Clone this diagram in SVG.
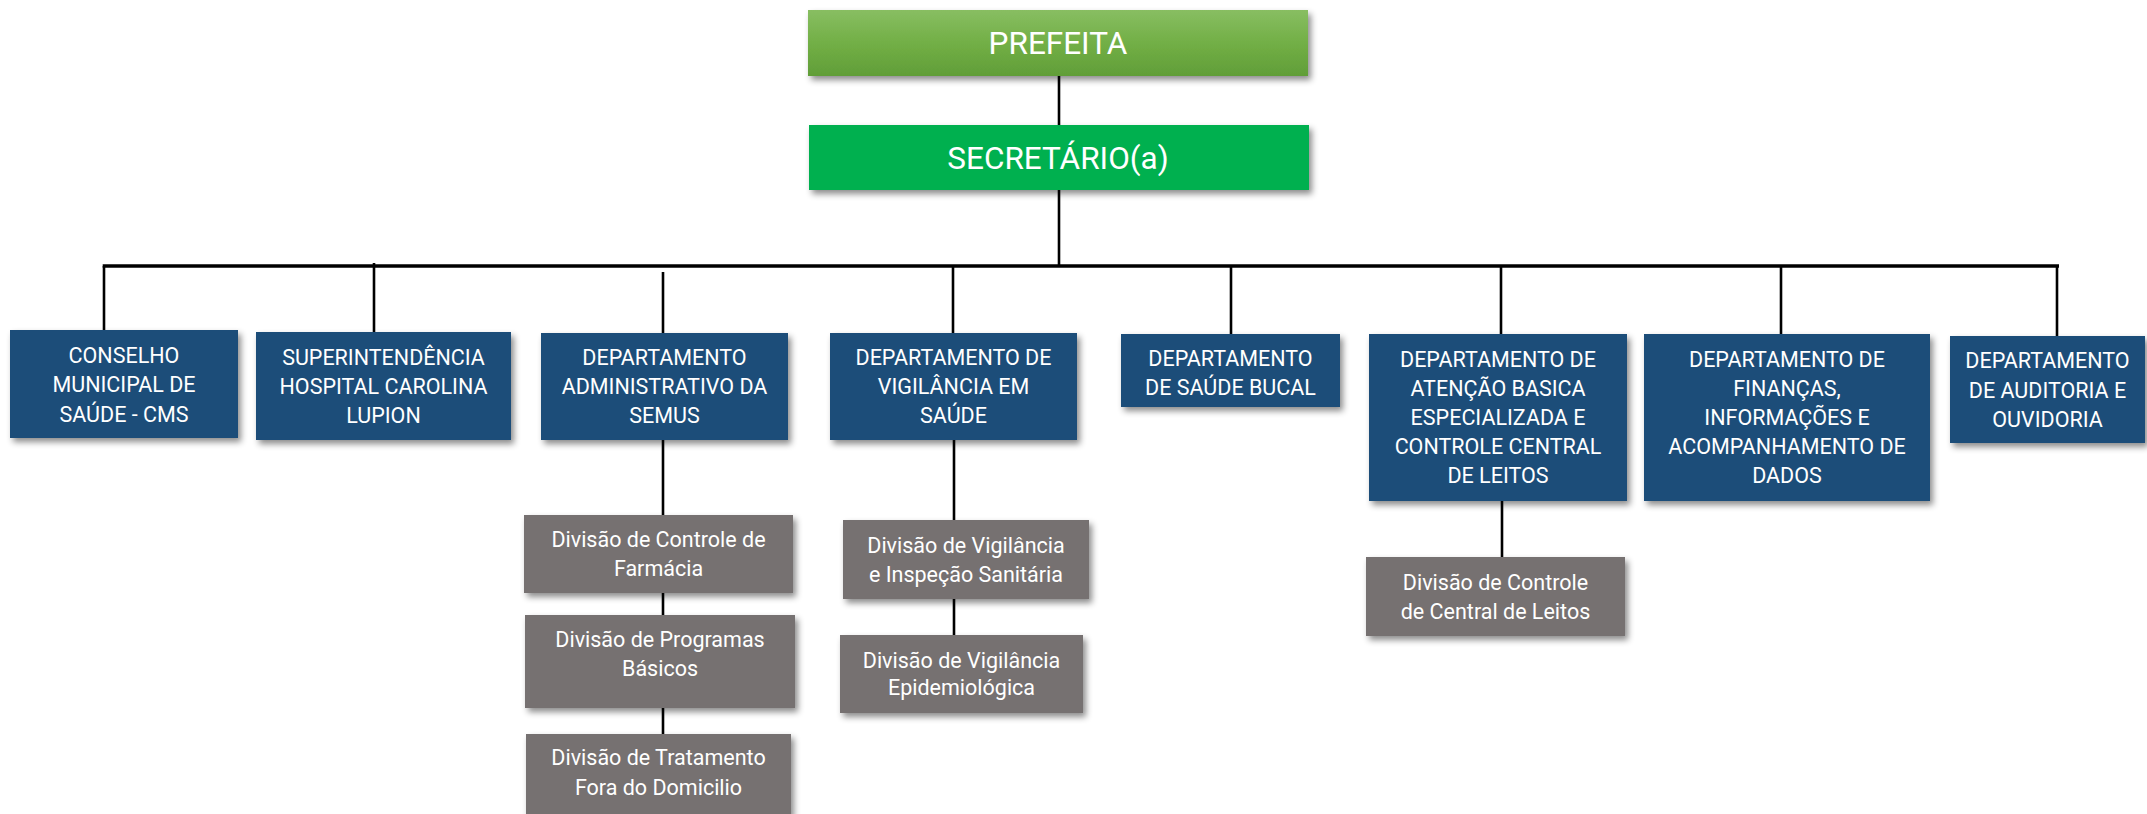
<svg xmlns="http://www.w3.org/2000/svg" width="2147" height="814" viewBox="0 0 2147 814">
<defs>
  <linearGradient id="gPref" x1="0" y1="0" x2="0" y2="1">
    <stop offset="0" stop-color="#88be62"/>
    <stop offset="0.5" stop-color="#72af46"/>
    <stop offset="1" stop-color="#619e38"/>
  </linearGradient>
  <filter id="sh" x="-10%" y="-10%" width="125%" height="140%">
    <feDropShadow dx="3" dy="4" stdDeviation="3" flood-color="#000" flood-opacity="0.45"/>
  </filter>
</defs>
<style>
  .blue { fill: #1f4e79; filter: url(#sh); }
  .gray { fill: #767171; filter: url(#sh); }
  .t { font-family: Roboto, "Liberation Sans", sans-serif; fill: #ffffff; text-anchor: middle; font-size: 21.5px; }
  .big { font-size: 31.5px; }
  .ln { stroke: #000; stroke-width: 2.6; fill: none; }
  .bar { stroke: #000; stroke-width: 3.6; fill: none; }
</style>
<rect width="2147" height="814" fill="#ffffff"/>

<g id="connectors">
  <path class="ln" d="M1059 76 V125"/>
  <path class="ln" d="M1059 190 V266"/>
  <path class="bar" d="M102.7 266 H2059"/>
  <path class="ln" d="M104 266 V330"/>
  <path class="ln" d="M374 263 V332"/>
  <path class="ln" d="M663 272 V333"/>
  <path class="ln" d="M953 266 V333"/>
  <path class="ln" d="M1231 266 V334"/>
  <path class="ln" d="M1501 266 V334"/>
  <path class="ln" d="M1781 266 V334"/>
  <path class="ln" d="M2057 266 V336"/>
  <path class="ln" d="M663 440 V515"/>
  <path class="ln" d="M663 593 V615"/>
  <path class="ln" d="M663 708 V734"/>
  <path class="ln" d="M954 440 V520"/>
  <path class="ln" d="M954 599 V635"/>
  <path class="ln" d="M1502 501 V557"/>
</g>

<g id="prefeita">
  <rect x="808" y="10" width="500" height="66" fill="url(#gPref)" filter="url(#sh)"/>
  <text class="t big" x="1058" y="54">PREFEITA</text>
</g>
<g id="secretario">
  <rect x="809" y="125" width="500" height="65" fill="#00b050" filter="url(#sh)"/>
  <text class="t big" x="1058" y="169">SECRETÁRIO(a)</text>
</g>

<g id="conselho">
  <rect class="blue" x="10" y="330" width="228" height="108"/>
  <text class="t" x="124" y="363">CONSELHO</text>
  <text class="t" x="124" y="392">MUNICIPAL DE</text>
  <text class="t" x="124" y="421.5">SAÚDE - CMS</text>
</g>
<g id="superintendencia">
  <rect class="blue" x="256" y="332" width="255" height="108"/>
  <text class="t" x="383.5" y="365">SUPERINTENDÊNCIA</text>
  <text class="t" x="383.5" y="394">HOSPITAL CAROLINA</text>
  <text class="t" x="383.5" y="423">LUPION</text>
</g>
<g id="dep-administrativo">
  <rect class="blue" x="541" y="333" width="247" height="107"/>
  <text class="t" x="664.5" y="365">DEPARTAMENTO</text>
  <text class="t" x="664.5" y="394">ADMINISTRATIVO DA</text>
  <text class="t" x="664.5" y="423">SEMUS</text>
</g>
<g id="dep-vigilancia">
  <rect class="blue" x="830" y="333" width="247" height="107"/>
  <text class="t" x="953.5" y="365">DEPARTAMENTO DE</text>
  <text class="t" x="953.5" y="394">VIGILÂNCIA EM</text>
  <text class="t" x="953.5" y="423">SAÚDE</text>
</g>
<g id="dep-saude-bucal">
  <rect class="blue" x="1121" y="334" width="219" height="73"/>
  <text class="t" x="1230.5" y="365.5">DEPARTAMENTO</text>
  <text class="t" x="1230.5" y="395">DE SAÚDE BUCAL</text>
</g>
<g id="dep-atencao">
  <rect class="blue" x="1369" y="334" width="258" height="167"/>
  <text class="t" x="1498" y="367">DEPARTAMENTO DE</text>
  <text class="t" x="1498" y="396">ATENÇÃO BASICA</text>
  <text class="t" x="1498" y="425">ESPECIALIZADA E</text>
  <text class="t" x="1498" y="454">CONTROLE CENTRAL</text>
  <text class="t" x="1498" y="483">DE LEITOS</text>
</g>
<g id="dep-financas">
  <rect class="blue" x="1644" y="334" width="286" height="167"/>
  <text class="t" x="1787" y="367">DEPARTAMENTO DE</text>
  <text class="t" x="1787" y="396">FINANÇAS,</text>
  <text class="t" x="1787" y="425">INFORMAÇÕES E</text>
  <text class="t" x="1787" y="454">ACOMPANHAMENTO DE</text>
  <text class="t" x="1787" y="483">DADOS</text>
</g>
<g id="dep-auditoria">
  <rect class="blue" x="1950" y="336" width="195" height="107"/>
  <text class="t" x="2047.5" y="368">DEPARTAMENTO</text>
  <text class="t" x="2047.5" y="397.5">DE AUDITORIA E</text>
  <text class="t" x="2047.5" y="426.5">OUVIDORIA</text>
</g>

<g id="div-farmacia">
  <rect class="gray" x="524" y="515" width="269" height="78"/>
  <text class="t" x="658.5" y="546.5">Divisão de Controle de</text>
  <text class="t" x="658.5" y="576">Farmácia</text>
</g>
<g id="div-programas">
  <rect class="gray" x="525" y="615" width="270" height="93"/>
  <text class="t" x="660" y="646.5">Divisão de Programas</text>
  <text class="t" x="660" y="676">Básicos</text>
</g>
<g id="div-tratamento">
  <rect class="gray" x="526" y="734" width="265" height="82"/>
  <text class="t" x="658.5" y="765">Divisão de Tratamento</text>
  <text class="t" x="658.5" y="795">Fora do Domicilio</text>
</g>
<g id="div-vigilancia-sanitaria">
  <rect class="gray" x="843" y="520" width="246" height="79"/>
  <text class="t" x="966" y="552.5">Divisão de Vigilância</text>
  <text class="t" x="966" y="581.5">e Inspeção Sanitária</text>
</g>
<g id="div-epidemiologica">
  <rect class="gray" x="840" y="635" width="243" height="78"/>
  <text class="t" x="961.5" y="667.5">Divisão de Vigilância</text>
  <text class="t" x="961.5" y="695">Epidemiológica</text>
</g>
<g id="div-central-leitos">
  <rect class="gray" x="1366" y="557" width="259" height="79"/>
  <text class="t" x="1495.5" y="590">Divisão de Controle</text>
  <text class="t" x="1495.5" y="619">de Central de Leitos</text>
</g>
</svg>
